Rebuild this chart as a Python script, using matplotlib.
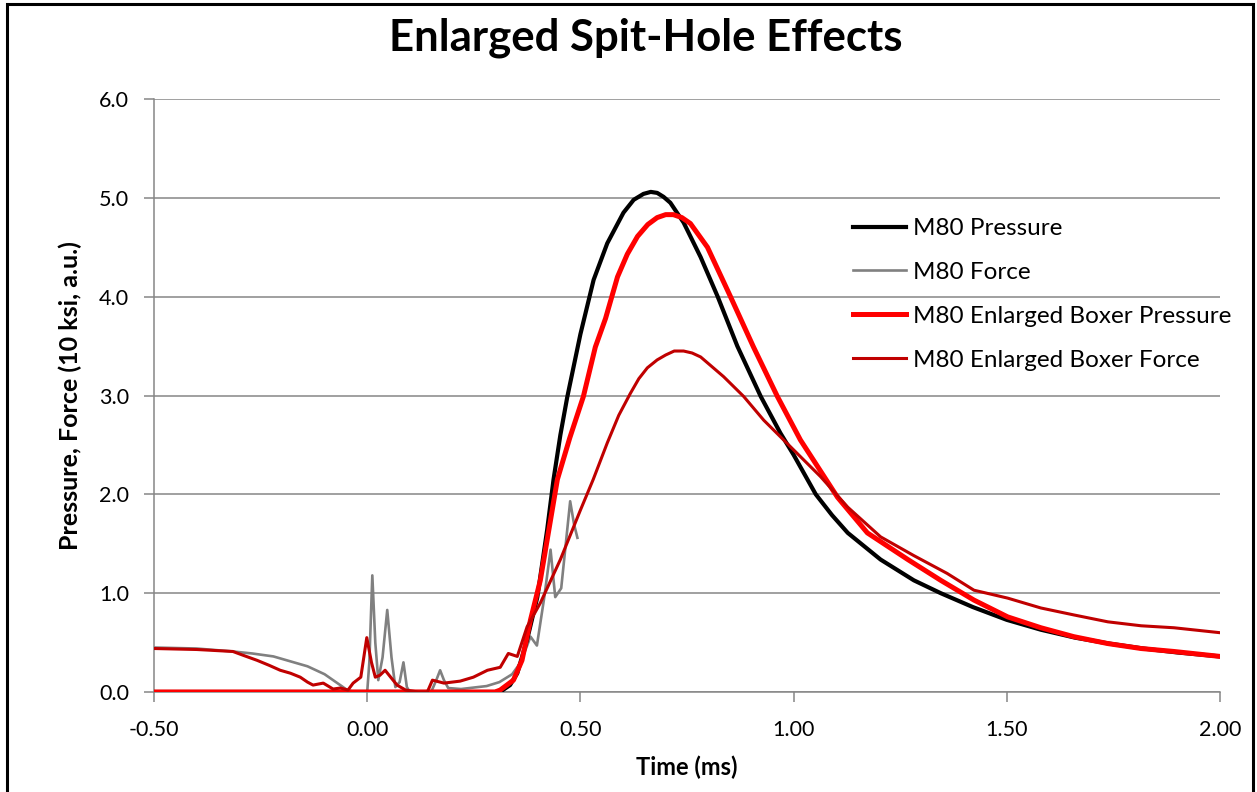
import matplotlib
matplotlib.use("Agg")
import matplotlib.pyplot as plt
from matplotlib.patches import Rectangle

# ---------------- data ----------------
p_x = [-0.5, 0.0, 0.25, 0.30, 0.318, 0.335, 0.352, 0.375, 0.399, 0.422, 0.437, 0.453,
       0.469, 0.50, 0.531, 0.563, 0.601, 0.625, 0.648, 0.665, 0.680, 0.695, 0.711,
       0.742, 0.782, 0.822, 0.868, 0.923, 0.969, 1.00, 1.052, 1.09, 1.127, 1.204, 1.282,
       1.345, 1.42, 1.50, 1.58, 1.66, 1.74, 1.82, 1.90, 2.0]
p_y = [0, 0, 0, 0.0, 0.02, 0.07, 0.19, 0.53, 0.96, 1.64, 2.15, 2.60,
       2.98, 3.62, 4.17, 4.54, 4.85, 4.98, 5.04, 5.06, 5.05, 5.01, 4.95,
       4.75, 4.40, 4.0, 3.50, 2.99, 2.62, 2.40, 2.0, 1.79, 1.61, 1.34, 1.13,
       1.00, 0.86, 0.73, 0.63, 0.55, 0.49, 0.44, 0.40, 0.36]

f_x = [-0.5, -0.4, -0.315, -0.27, -0.22, -0.18, -0.14, -0.10, -0.08, -0.06, -0.047,
       -0.03, 0.0, 0.005, 0.012, 0.019, 0.026, 0.036, 0.047, 0.057, 0.066, 0.076,
       0.085, 0.093, 0.10, 0.15, 0.162, 0.171, 0.180, 0.19, 0.22, 0.28, 0.31, 0.34,
       0.36, 0.383, 0.398, 0.415, 0.430, 0.441, 0.455, 0.476, 0.485, 0.493]
f_y = [0.45, 0.44, 0.41, 0.39, 0.36, 0.31, 0.26, 0.18, 0.12, 0.06, 0.02,
       0.0, 0.0, 0.3, 1.18, 0.5, 0.12, 0.35, 0.83, 0.35, 0.05, 0.1,
       0.30, 0.05, 0.0, 0.0, 0.12, 0.22, 0.12, 0.04, 0.03, 0.06, 0.10, 0.18,
       0.30, 0.56, 0.47, 0.95, 1.44, 0.96, 1.05, 1.93, 1.70, 1.56]

ep_x = [-0.5, 0.30, 0.312, 0.343, 0.363, 0.383, 0.406, 0.446, 0.475, 0.507, 0.535,
        0.559, 0.587, 0.610, 0.634, 0.658, 0.680, 0.700, 0.718, 0.738, 0.758, 0.798,
        0.852, 0.906, 0.962, 1.016, 1.103, 1.173, 1.268, 1.345, 1.423, 1.502, 1.58,
        1.657, 1.737, 1.815, 1.892, 2.0]
ep_y = [0, 0, 0.02, 0.12, 0.32, 0.73, 1.13, 2.15, 2.57, 2.99, 3.49,
        3.78, 4.20, 4.43, 4.61, 4.73, 4.80, 4.83, 4.83, 4.80, 4.74, 4.50,
        4.0, 3.49, 2.99, 2.55, 1.97, 1.61, 1.34, 1.13, 0.93, 0.76, 0.65,
        0.56, 0.49, 0.44, 0.41, 0.36]

ef_x = [-0.5, -0.40, -0.315, -0.29, -0.258, -0.23, -0.204, -0.18, -0.157, -0.14, -0.127,
        -0.103, -0.08, -0.063, -0.045, -0.033, -0.015, -0.001, 0.010, 0.019, 0.030,
        0.042, 0.055, 0.07, 0.09, 0.12, 0.141, 0.153, 0.18, 0.218, 0.249, 0.282, 0.312,
        0.331, 0.352, 0.375, 0.406, 0.453, 0.50, 0.53, 0.563, 0.590, 0.617, 0.637,
        0.657, 0.680, 0.70, 0.720, 0.742, 0.762, 0.782, 0.836, 0.883, 0.930, 0.993,
        1.063, 1.127, 1.204, 1.282, 1.36, 1.423, 1.502, 1.58, 1.657, 1.737, 1.815,
        1.892, 2.0]
ef_y = [0.44, 0.43, 0.41, 0.37, 0.32, 0.27, 0.22, 0.19, 0.15, 0.10, 0.07,
        0.09, 0.03, 0.04, 0.02, 0.09, 0.15, 0.55, 0.30, 0.15, 0.17,
        0.22, 0.15, 0.07, 0.02, 0.0, 0.0, 0.12, 0.09, 0.11, 0.15, 0.22, 0.25,
        0.39, 0.36, 0.66, 0.90, 1.34, 1.84, 2.15, 2.52, 2.80, 3.02, 3.17,
        3.28, 3.36, 3.41, 3.45, 3.45, 3.43, 3.39, 3.19, 2.99, 2.75, 2.48,
        2.18, 1.87, 1.57, 1.38, 1.20, 1.03, 0.95, 0.85, 0.78, 0.71, 0.67,
        0.65, 0.60]

labels = ["M80 Pressure", "M80 Force", "M80 Enlarged Boxer Pressure",
          "M80 Enlarged Boxer Force"]
x_ticks = [-0.5, 0.0, 0.5, 1.0, 1.5, 2.0]
y_ticks = [0.0, 1.0, 2.0, 3.0, 4.0, 5.0, 6.0]

# ---------------- figure ----------------
plt.rcParams['font.family'] = ['Lato', 'DejaVu Sans']
W, H = 1257, 792
fig = plt.figure(figsize=(W / 100, H / 100), dpi=100)
ax = fig.add_axes([154 / W, 1 - 692 / H, (1220 - 154) / W, (692 - 99) / H])

grid_c = '#868686'
ax.plot(p_x, p_y, color='black', lw=3.0, label=labels[0], zorder=3)
ax.plot(f_x, f_y, color='#808080', lw=1.9, label=labels[1], zorder=2)
ax.plot(ep_x, ep_y, color='#ff0000', lw=3.6, label=labels[2], zorder=4)
ax.plot(ef_x, ef_y, color='#c00000', lw=2.2, label=labels[3], zorder=5)

ax.set_xlim(-0.5, 2.0)
ax.set_ylim(0, 6.0)
ax.set_xticks(x_ticks)
ax.set_xticklabels([f"{v:.2f}" for v in x_ticks])
ax.set_yticks(y_ticks)
ax.set_yticklabels([f"{v:.1f}" for v in y_ticks])
ax.yaxis.grid(True, color=grid_c, lw=1.1)
ax.set_axisbelow(True)
for s in ['top', 'right']:
    ax.spines[s].set_visible(False)
for s in ['left', 'bottom']:
    ax.spines[s].set_color(grid_c)
    ax.spines[s].set_linewidth(1.1)
ax.tick_params(axis='both', colors=grid_c, labelcolor='black', labelsize=15.5,
               width=1.1)
ax.tick_params(axis='y', length=7, pad=11)
ax.tick_params(axis='x', length=7, pad=13)

ax.set_xlabel("Time (ms)", fontsize=17, fontweight='bold', labelpad=11)
ax.set_ylabel("Pressure, Force (10 ksi, a.u.)", fontsize=18, fontweight='bold',
              labelpad=12)

fig.text(646 / W, 1 - 38 / H, "Enlarged Spit-Hole Effects", fontsize=31.5,
         fontweight='bold', ha='center', va='center')

leg = ax.legend(loc='upper left', bbox_to_anchor=(853 / W, 1 - 218 / H),
                bbox_transform=fig.transFigure, frameon=False, fontsize=17.5,
                handlelength=2.2, handletextpad=0.25, labelspacing=0.94,
                borderaxespad=0, borderpad=0)

# outer frame
fig.patches.append(Rectangle((7 / W, -0.05), (1253 - 7) / W, 1.05 - 4 / H,
                             transform=fig.transFigure, fill=False,
                             edgecolor='black', lw=2.2))

fig.savefig("out.png", dpi=100)
